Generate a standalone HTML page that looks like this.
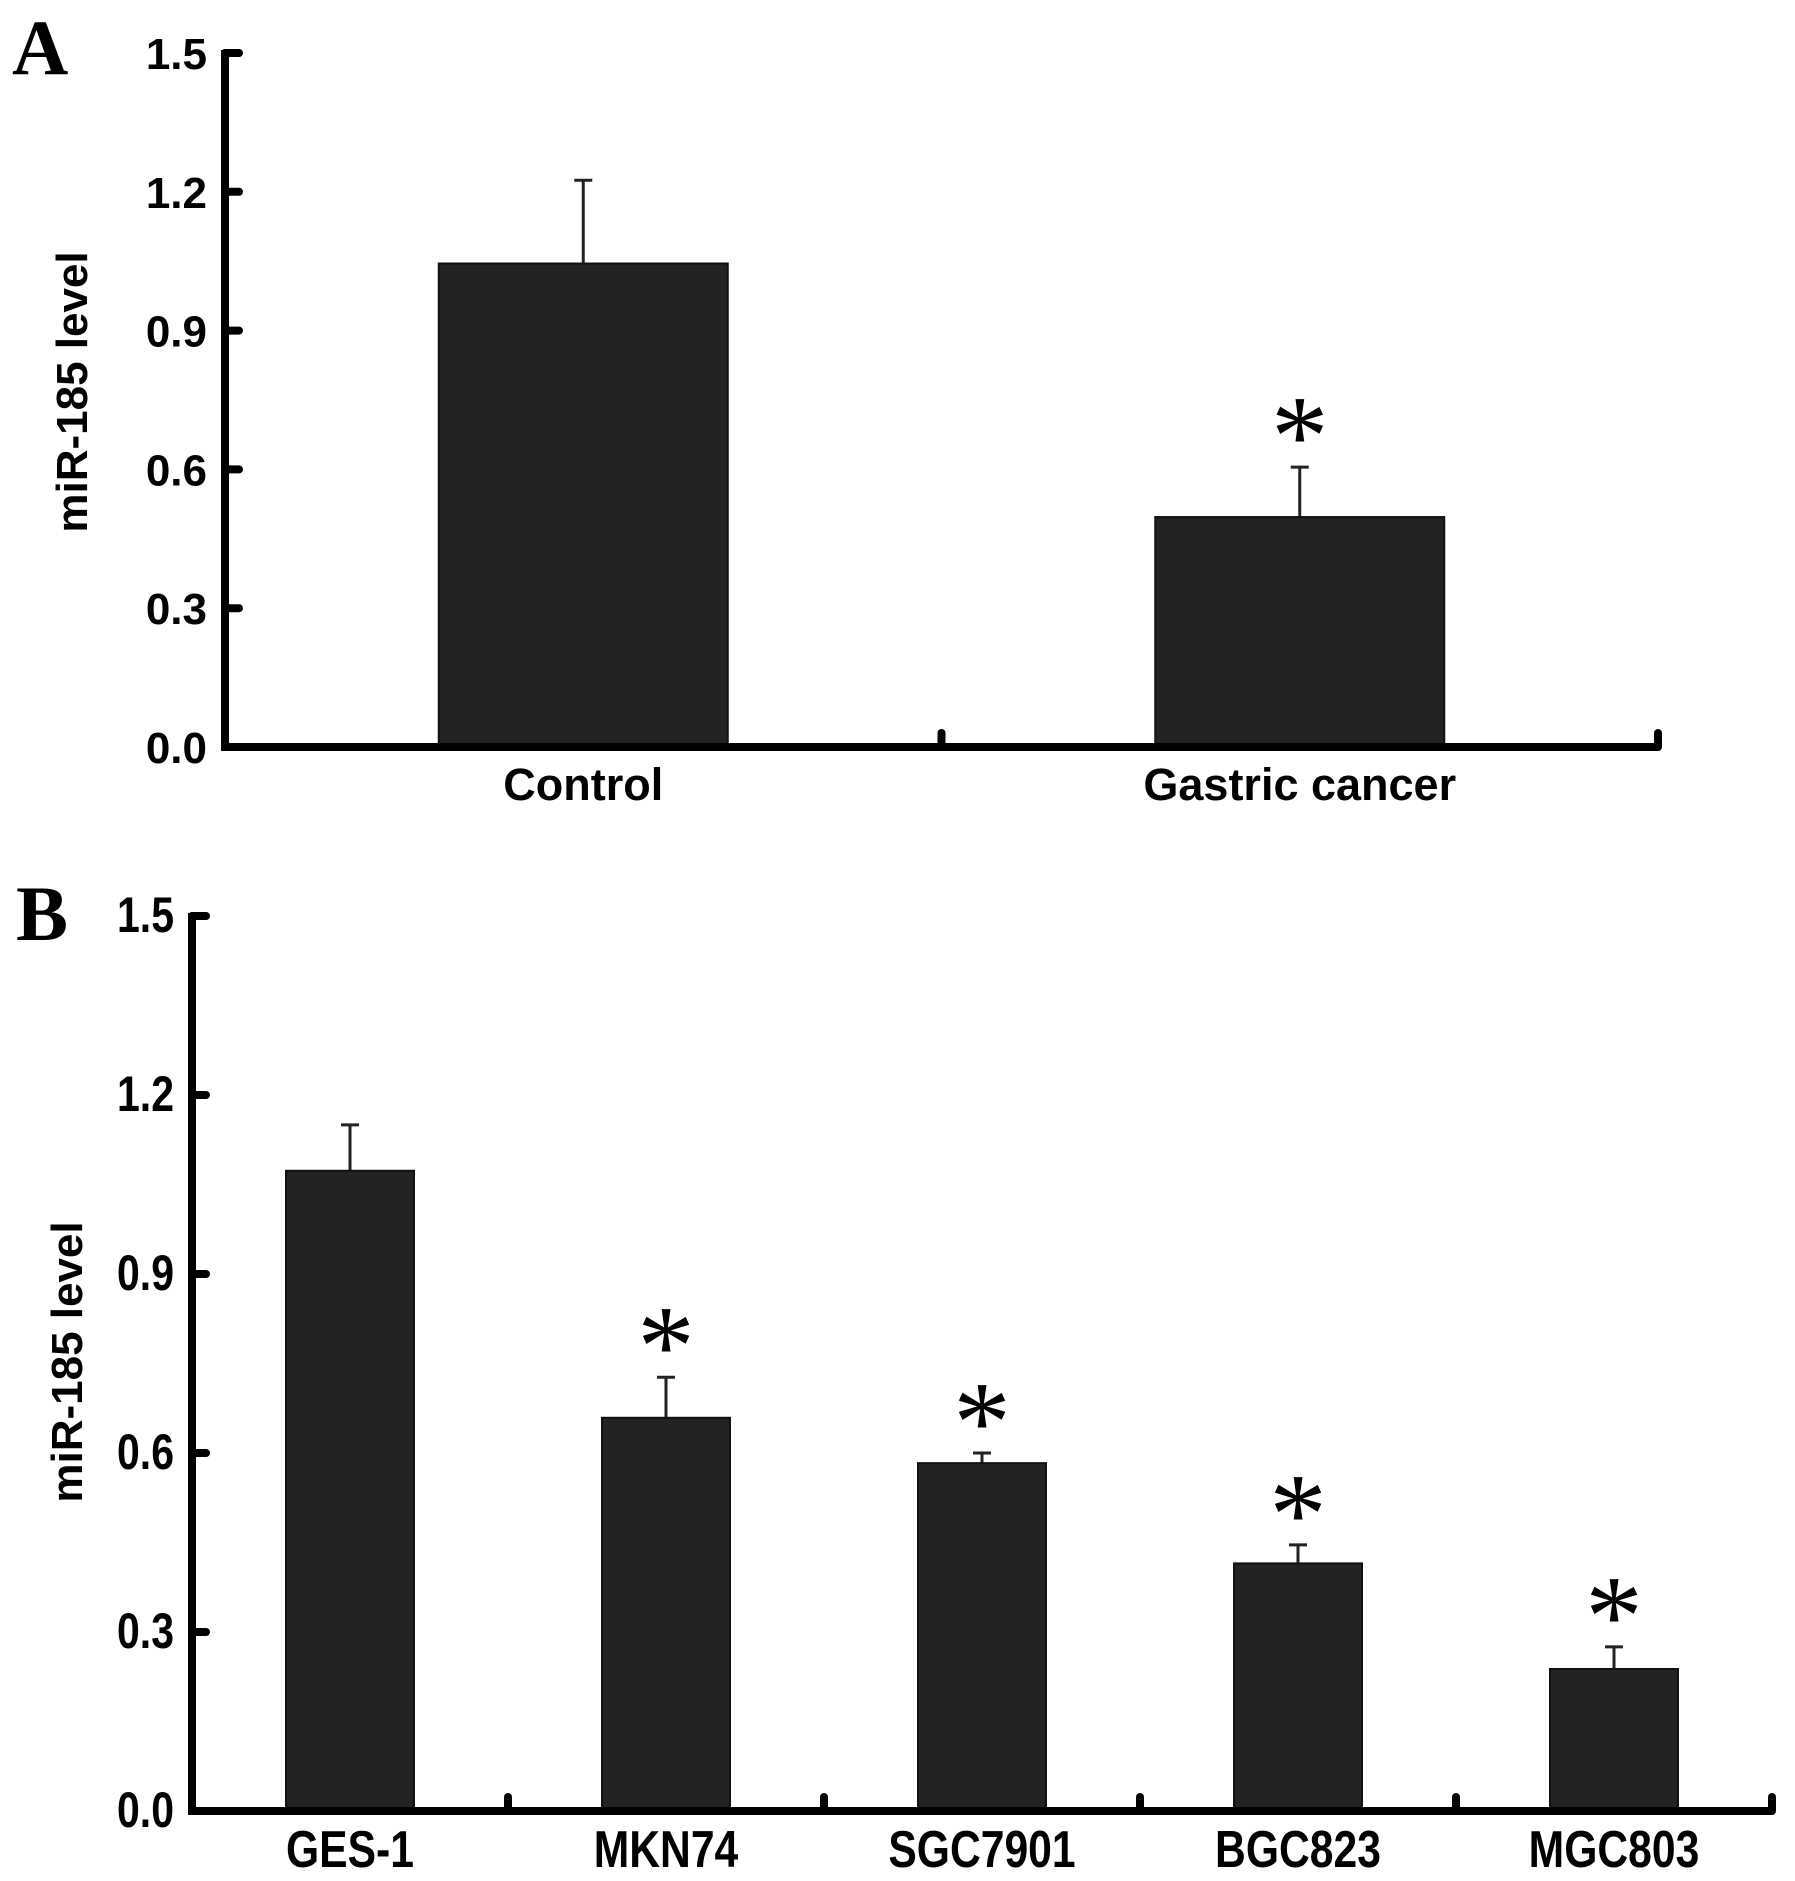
<!DOCTYPE html>
<html><head><meta charset="utf-8"><style>
html,body{margin:0;padding:0;background:#fff;}
svg{display:block;}
text{font-family:"Liberation Sans",Arial,sans-serif;font-weight:bold;fill:#000;}
</style></head>
<body>
<svg id="fig" width="1795" height="1881" viewBox="0 0 1795 1881" xmlns="http://www.w3.org/2000/svg">
<text x="12" y="74" style="font-family:'Liberation Serif',serif;font-size:78px">A</text>
<text x="16" y="940" style="font-family:'Liberation Serif',serif;font-size:78px">B</text>
<g id="pa"></g>
<g id="pb"></g>
</svg>
<script>
var ticksA = [0.0, 0.3, 0.6, 0.9, 1.2, 1.5];
var tickLabelsA = ["0.0", "0.3", "0.6", "0.9", "1.2", "1.5"];
var catsA = ["Control", "Gastric cancer"];
var valsA = [1.045, 0.497];
var errA = [0.18, 0.108];
var sigA = [false, true];

var ticksB = [0.0, 0.3, 0.6, 0.9, 1.2, 1.5];
var tickLabelsB = ["0.0", "0.3", "0.6", "0.9", "1.2", "1.5"];
var catsB = ["GES-1", "MKN74", "SGC7901", "BGC823", "MGC803"];
var valsB = [1.073, 0.659, 0.583, 0.415, 0.238];
var errB = [0.077, 0.068, 0.017, 0.031, 0.037];
var sigB = [false, true, true, true, true];

var NS = "http://www.w3.org/2000/svg";
function mk(parent, tag, attrs, txt) {
  var e = document.createElementNS(NS, tag);
  for (var k in attrs) e.setAttribute(k, attrs[k]);
  if (txt !== undefined) e.textContent = txt;
  parent.appendChild(e);
  return e;
}
function drawPanel(g, cfg, ticks, tickLabels, cats, vals, errs, sigs) {
  var y = function (v) { return cfg.y0 - (v / 1.5) * (cfg.y0 - cfg.y15); };
  var slot = (cfg.xEnd - cfg.x0) / cats.length;
  var x = function (i) { return cfg.x0 + slot * (i + 0.5); };
  var e;
  for (var i = 0; i < cats.length; i++) {
    var cx = x(i), top = y(vals[i]), et = y(vals[i] + errs[i]);
    e = mk(g, "line", {x1: cx, y1: top, x2: cx, y2: et, stroke: "#222", "stroke-width": 3});
    
    
    e = mk(g, "line", {x1: cx - 9, y1: et, x2: cx + 9, y2: et, stroke: "#222", "stroke-width": 3});
    
    
    e = mk(g, "rect", {x: cx - cfg.bw / 2, y: top, width: cfg.bw, height: cfg.y0 - top, fill: "#232323", stroke: "#111", "stroke-width": 2});
    
    
    if (sigs[i]) {
      e = mk(g, "text", {x: cx, y: et - 44 + 52, "text-anchor": "middle", style: "font-family:'Liberation Serif',serif;font-weight:normal;font-size:115px"}, "*");
      
      
    }
    e = mk(g, "text", {x: cx, y: cfg.labY, "text-anchor": "middle", style: "font-size:" + cfg.catFs + "px", transform: "translate(" + cx + " 0) scale(" + cfg.sx + " 1) translate(" + (-cx) + " 0)"}, cats[i]);
    
    
    var tx = cfg.x0 + slot * (i + 1);
    e = mk(g, "line", {x1: tx, y1: cfg.y0, x2: tx, y2: cfg.y0 - 14, stroke: "#000", "stroke-width": 8, "stroke-linecap": "round"});
    
    
  }
  e = mk(g, "line", {x1: cfg.x0, y1: cfg.y15 - 3, x2: cfg.x0, y2: cfg.y0, stroke: "#000", "stroke-width": 8});
  
  
  e = mk(g, "line", {x1: cfg.x0 - 4, y1: cfg.y0, x2: cfg.xEnd, y2: cfg.y0, stroke: "#000", "stroke-width": 8});
  
  
  for (var j = 0; j < ticks.length; j++) {
    var ty = y(ticks[j]);
    e = mk(g, "line", {x1: cfg.x0, y1: ty, x2: cfg.x0 + 14, y2: ty, stroke: "#000", "stroke-width": 8, "stroke-linecap": "round"});
    
    
    var lx = cfg.x0 - 18;
    e = mk(g, "text", {x: lx, y: ty + 16, "text-anchor": "end", style: "font-size:" + cfg.tickFs + "px", transform: "translate(" + lx + " 0) scale(" + cfg.sx + " 1) translate(" + (-lx) + " 0)"}, tickLabels[j]);
    
    
  }
  e = mk(g, "text", {x: 0, y: 0, "text-anchor": "middle", style: "font-size:" + cfg.ylFs + "px", transform: "translate(" + cfg.ylx + " " + cfg.yly + ") rotate(-90)"}, "miR-185 level");
  
  
}
drawPanel(document.getElementById('pa'),
  {x0: 225, xEnd: 1658, y0: 747, y15: 53, bw: 289, labY: 800, catFs: 45, tickFs: 44, sx: 1, ylFs: 44, ylx: 87, yly: 392},
  ticksA, tickLabelsA, catsA, valsA, errA, sigA);
drawPanel(document.getElementById('pb'),
  {x0: 192, xEnd: 1772, y0: 1811, y15: 916, bw: 128, labY: 1867, catFs: 52, tickFs: 50, sx: 0.82, ylFs: 44, ylx: 82, yly: 1362},
  ticksB, tickLabelsB, catsB, valsB, errB, sigB);
</script>
</body></html>
